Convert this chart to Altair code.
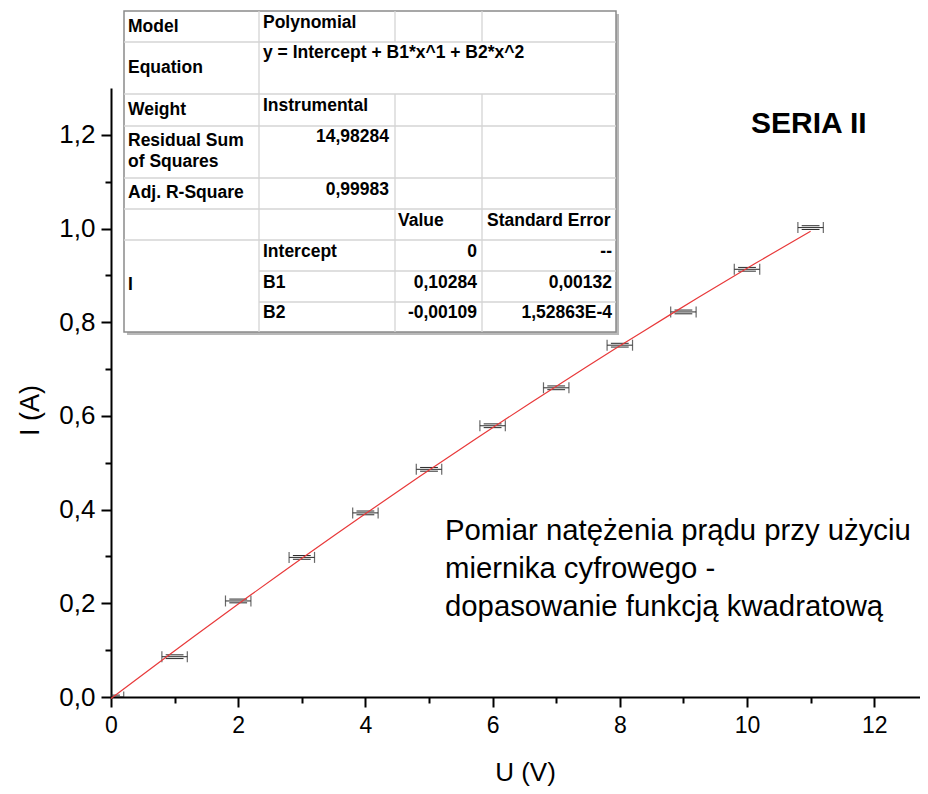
import altair as alt
import pandas as pd

# ---------------- data ----------------
U = [0, 1, 2, 3, 4, 5, 6, 7, 8, 9, 10, 11]
I = [0.0, 0.086, 0.205, 0.298, 0.393, 0.486, 0.579, 0.660, 0.751, 0.822, 0.913, 1.002]
U_err = [0.2, 0.2, 0.2, 0.2, 0.2, 0.2, 0.2, 0.2, 0.2, 0.2, 0.2, 0.2]
I_err = [0.004, 0.004, 0.004, 0.004, 0.004, 0.004, 0.004, 0.004, 0.004, 0.004, 0.004, 0.004]

x_major = [0, 2, 4, 6, 8, 10, 12]
x_minor = [1, 3, 5, 7, 9, 11]
y_major = [0.0, 0.2, 0.4, 0.6, 0.8, 1.0, 1.2]
y_minor = [0.1, 0.3, 0.5, 0.7, 0.9, 1.1]

# fit-report table (text content)
tbl_text = ["Model", "Polynomial", "Equation", "y = Intercept + B1*x^1 + B2*x^2",
            "Weight", "Instrumental", "Residual Sum", "of Squares", "14,98284",
            "Adj. R-Square", "0,99983", "Value", "Standard Error",
            "Intercept", "0", "--", "I", "B1", "0,10284", "0,00132",
            "B2", "-0,00109", "1,52863E-4"]

series_title = "SERIA II"
note_lines = ["Pomiar natężenia prądu przy użyciu",
              "miernika cyfrowego -",
              "dopasowanie funkcją kwadratową"]

# ---------------- layout (pixels inside the plot group) ----------------
W, H = 809, 609
OX, OY = 111, 88  # page position of plot origin (for converting measured page px)

# table text layout: (page x, page y, align)
tbl_pos = [(128, 27, "left"), (263, 23, "left"), (128, 68, "left"), (263, 53, "left"),
           (128, 110, "left"), (263, 106, "left"), (128, 141, "left"), (128, 162, "left"),
           (389, 137, "right"), (128, 193, "left"), (389, 190, "right"),
           (398, 221, "left"), (487, 221, "left"),
           (263, 252, "left"), (477, 252, "right"), (612, 252, "right"),
           (128, 285, "left"), (263, 283, "left"), (477, 283, "right"), (612, 283, "right"),
           (263, 313, "left"), (477, 313, "right"), (612, 313, "right")]
tbl_df = pd.DataFrame({
    "t": tbl_text,
    "px": [p[0] - OX for p in tbl_pos],
    "py": [p[1] - OY for p in tbl_pos],
    "al": [p[2] for p in tbl_pos],
})

TL, TR, TT, TB = 124, 616, 11, 332
c1, c2, c3 = 259, 395, 482
hsegs = [(42, TL, TR), (94, TL, TR), (126, TL, TR), (178, TL, TR), (209, TL, TR),
         (240, TL, TR), (271, c1, TR), (302, c1, TR)]
vsegs = [(c1, TT, TB), (c2, TT, 42), (c2, 94, TB), (c3, TT, 42), (c3, 94, TB)]
seg_rows = []
for y, a, b in hsegs:
    seg_rows.append({"x1": a - OX, "x2": b - OX, "y1": y - OY, "y2": y - OY})
for x, a, b in vsegs:
    seg_rows.append({"x1": x - OX, "x2": x - OX, "y1": a - OY, "y2": b - OY})
seg_df = pd.DataFrame(seg_rows)
box_df = pd.DataFrame({"x1": [TL - OX], "x2": [TR - OX], "y1": [TT - OY], "y2": [TB - OY]})
shadow_df = pd.DataFrame({"x1": [TL - OX + 3], "x2": [TR - OX + 3], "y1": [TT - OY + 3], "y2": [TB - OY + 3]})

FONT = "Liberation Sans"

df = pd.DataFrame({"U": U, "I": I, "ue": U_err, "ie": I_err})

xs = alt.Scale(domain=[0, 12.72], nice=False, zero=False)
ys = alt.Scale(domain=[0, 1.3], nice=False, zero=False)

base = alt.Chart(df).transform_calculate(
    xlo="datum.U - datum.ue", xhi="datum.U + datum.ue",
    clo="datum.U - 0.7*datum.ue", chi="datum.U + 0.7*datum.ue",
    ylo="datum.I - datum.ie", yhi="datum.I + datum.ie",
)

yfmt = "replace(format(datum.value, '.1f'), '.', ',')"

# main layer: horizontal error bars, carries the major axes
err_h = base.mark_rule(color="#2a2a2a", strokeWidth=1, clip=True).encode(
    x=alt.X("xlo:Q", scale=xs, axis=alt.Axis(
        values=x_major, orient="bottom", title="U (V)", tickSize=10, labelFontSize=23,
        labelPadding=7, titleFontSize=26, titleFontWeight="normal", grid=False,
        titleX=414, titleY=75, titleBaseline="middle", titleAlign="center", labelFlush=False)),
    x2="xhi:Q",
    y=alt.Y("I:Q", scale=ys, axis=alt.Axis(
        values=y_major, orient="left", title="I (A)", tickSize=10, labelFontSize=26,
        labelPadding=6, titleFontSize=27, titleFontWeight="normal", grid=False,
        labelExpr=yfmt, titleX=-81, titleY=322, titleBaseline="middle", titleAlign="center",
        titleAngle=270, labelFlush=False)),
)

# minor ticks axes
minor = base.mark_point(opacity=0).encode(
    x=alt.X("U:Q", scale=xs, axis=alt.Axis(values=x_minor, orient="bottom", labels=False,
                                          title=None, tickSize=6, domain=False, grid=False)),
    y=alt.Y("I:Q", scale=ys, axis=alt.Axis(values=y_minor, orient="left", labels=False,
                                          title=None, tickSize=6, domain=False, grid=False)),
)

cap_lo = base.mark_tick(color="#2a2a2a", thickness=1.2, size=11, orient="vertical", clip=True).encode(
    x=alt.X("xlo:Q", scale=xs, axis=None), y=alt.Y("I:Q", scale=ys, axis=None))
cap_hi = base.mark_tick(color="#2a2a2a", thickness=1.2, size=11, orient="vertical", clip=True).encode(
    x=alt.X("xhi:Q", scale=xs, axis=None), y=alt.Y("I:Q", scale=ys, axis=None))
ycap_lo = base.mark_rule(color="#2a2a2a", strokeWidth=1, clip=True).encode(
    x=alt.X("clo:Q", scale=xs, axis=None), x2="chi:Q", y=alt.Y("ylo:Q", scale=ys, axis=None))
ycap_hi = base.mark_rule(color="#2a2a2a", strokeWidth=1, clip=True).encode(
    x=alt.X("clo:Q", scale=xs, axis=None), x2="chi:Q", y=alt.Y("yhi:Q", scale=ys, axis=None))

fit = alt.Chart(df).transform_regression(
    "U", "I", method="poly", order=2, extent=[0, 11]
).mark_line(color="#e8393a", strokeWidth=1.2).encode(
    x=alt.X("U:Q", scale=xs, axis=None), y=alt.Y("I:Q", scale=ys, axis=None))

# table
shadow = alt.Chart(shadow_df).mark_rect(fill="#b8b8b8").encode(
    x=alt.X("x1:Q", scale=None, axis=None), x2="x2:Q",
    y=alt.Y("y1:Q", scale=None, axis=None), y2="y2:Q")
box = alt.Chart(box_df).mark_rect(fill="white", stroke="#8a8a8a", strokeWidth=1.5).encode(
    x=alt.X("x1:Q", scale=None, axis=None), x2="x2:Q",
    y=alt.Y("y1:Q", scale=None, axis=None), y2="y2:Q")
grid = alt.Chart(seg_df).mark_rule(color="#d4d4d4", strokeWidth=1.3).encode(
    x=alt.X("x1:Q", scale=None, axis=None), x2="x2:Q",
    y=alt.Y("y1:Q", scale=None, axis=None), y2="y2:Q")
tleft = alt.Chart(tbl_df).transform_filter("datum.al == 'left'").mark_text(
    font=FONT, fontSize=17.5, fontWeight="bold", align="left", baseline="middle", color="black"
).encode(x=alt.X("px:Q", scale=None, axis=None), y=alt.Y("py:Q", scale=None, axis=None), text="t:N")
tright = alt.Chart(tbl_df).transform_filter("datum.al == 'right'").mark_text(
    font=FONT, fontSize=17.5, fontWeight="bold", align="right", baseline="middle", color="black"
).encode(x=alt.X("px:Q", scale=None, axis=None), y=alt.Y("py:Q", scale=None, axis=None), text="t:N")

# annotations
title_df = pd.DataFrame({"t": [series_title], "px": [751 - OX], "py": [124 - OY]})
seria = alt.Chart(title_df).mark_text(
    font=FONT, fontSize=30, fontWeight="bold", align="left", baseline="middle", color="black"
).encode(x=alt.X("px:Q", scale=None, axis=None), y=alt.Y("py:Q", scale=None, axis=None), text="t:N")

note_df = pd.DataFrame({"t": note_lines, "px": [445 - OX] * 3,
                        "py": [531 - OY, 569 - OY, 607 - OY]})
note = alt.Chart(note_df).mark_text(
    font=FONT, fontSize=29.3, align="left", baseline="middle", color="black"
).encode(x=alt.X("px:Q", scale=None, axis=None), y=alt.Y("py:Q", scale=None, axis=None), text="t:N")

chart = alt.layer(
    minor, err_h, cap_lo, cap_hi, ycap_lo, ycap_hi, fit,
    shadow, box, grid, tleft, tright, seria, note
).resolve_axis(x="independent", y="independent").properties(
    width=W, height=H,
    autosize=alt.AutoSizeParams(type="none"),
    padding={"left": 103, "top": 80, "right": 0, "bottom": 90},
).configure_axis(
    domainColor="black", tickColor="black", labelColor="black", titleColor="black",
    labelFont=FONT, titleFont=FONT, domainWidth=2, tickWidth=2,
).configure_view(strokeOpacity=0)

chart.save("out.html", embed_options={"renderer": "svg", "actions": False})
